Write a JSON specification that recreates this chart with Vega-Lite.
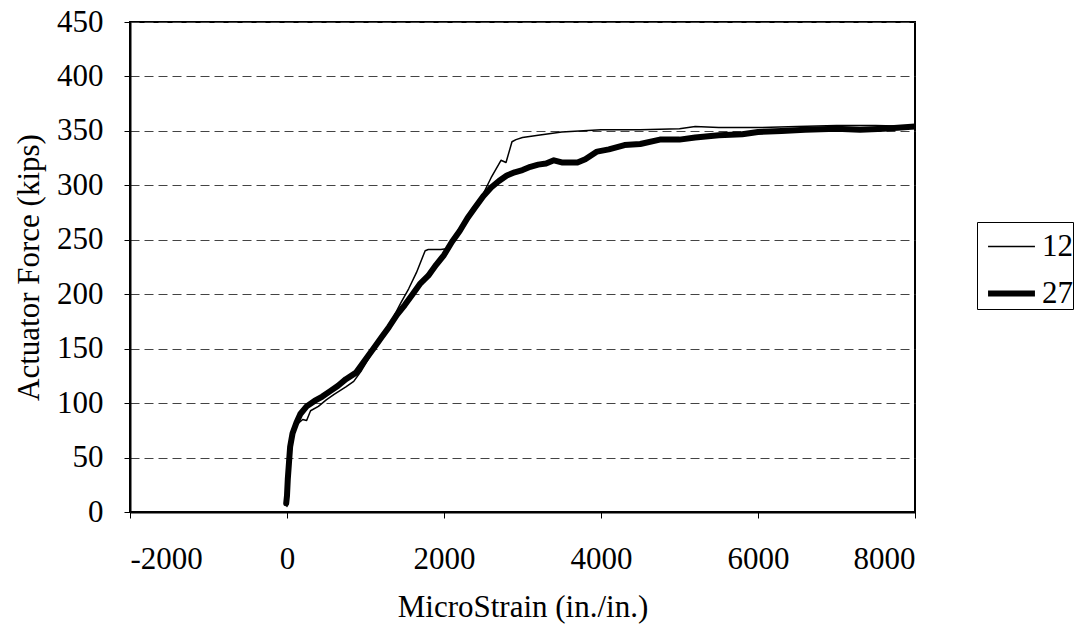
{
  "$schema": "https://vega.github.io/schema/vega-lite/v6.json",
  "width": 785,
  "height": 490,
  "autosize": {"type": "none"},
  "padding": {"left": 130, "top": 22, "right": 168, "bottom": 120},
  "background": "white",
  "config": {
    "font": "Liberation Serif",
    "view": {"stroke": "black", "strokeWidth": 2}
  },
  "data": {
    "values": [
      {"s": "12", "x": 0, "y": 5}, {"s": "12", "x": 10, "y": 20}, {"s": "12", "x": 30, "y": 50}, {"s": "12", "x": 60, "y": 70},
      {"s": "12", "x": 120, "y": 80}, {"s": "12", "x": 200, "y": 85}, {"s": "12", "x": 250, "y": 84}, {"s": "12", "x": 300, "y": 93},
      {"s": "12", "x": 400, "y": 97}, {"s": "12", "x": 500, "y": 103}, {"s": "12", "x": 600, "y": 108}, {"s": "12", "x": 750, "y": 115},
      {"s": "12", "x": 850, "y": 120}, {"s": "12", "x": 950, "y": 130}, {"s": "12", "x": 1050, "y": 142}, {"s": "12", "x": 1150, "y": 155},
      {"s": "12", "x": 1250, "y": 165}, {"s": "12", "x": 1350, "y": 178}, {"s": "12", "x": 1450, "y": 192}, {"s": "12", "x": 1550, "y": 205},
      {"s": "12", "x": 1650, "y": 220}, {"s": "12", "x": 1760, "y": 240}, {"s": "12", "x": 1800, "y": 241}, {"s": "12", "x": 1960, "y": 241},
      {"s": "12", "x": 2050, "y": 242}, {"s": "12", "x": 2150, "y": 254}, {"s": "12", "x": 2250, "y": 266}, {"s": "12", "x": 2350, "y": 278},
      {"s": "12", "x": 2484, "y": 290}, {"s": "12", "x": 2600, "y": 307}, {"s": "12", "x": 2726, "y": 323}, {"s": "12", "x": 2790, "y": 321},
      {"s": "12", "x": 2866, "y": 340}, {"s": "12", "x": 2917, "y": 342}, {"s": "12", "x": 3000, "y": 344}, {"s": "12", "x": 3200, "y": 346},
      {"s": "12", "x": 3500, "y": 349}, {"s": "12", "x": 4000, "y": 351}, {"s": "12", "x": 4500, "y": 351}, {"s": "12", "x": 5000, "y": 352},
      {"s": "12", "x": 5200, "y": 354}, {"s": "12", "x": 5500, "y": 353}, {"s": "12", "x": 6000, "y": 353}, {"s": "12", "x": 6500, "y": 354},
      {"s": "12", "x": 7000, "y": 355}, {"s": "12", "x": 7500, "y": 355}, {"s": "12", "x": 8000, "y": 354},
      {"s": "27", "x": -10, "y": 8}, {"s": "27", "x": 0, "y": 15}, {"s": "27", "x": 10, "y": 30}, {"s": "27", "x": 25, "y": 45},
      {"s": "27", "x": 40, "y": 60}, {"s": "27", "x": 70, "y": 72}, {"s": "27", "x": 120, "y": 82}, {"s": "27", "x": 170, "y": 90},
      {"s": "27", "x": 250, "y": 97}, {"s": "27", "x": 350, "y": 102}, {"s": "27", "x": 450, "y": 106}, {"s": "27", "x": 550, "y": 111},
      {"s": "27", "x": 650, "y": 116}, {"s": "27", "x": 750, "y": 122}, {"s": "27", "x": 880, "y": 128}, {"s": "27", "x": 1000, "y": 140},
      {"s": "27", "x": 1100, "y": 150}, {"s": "27", "x": 1200, "y": 160}, {"s": "27", "x": 1300, "y": 170}, {"s": "27", "x": 1400, "y": 181},
      {"s": "27", "x": 1500, "y": 190}, {"s": "27", "x": 1600, "y": 200}, {"s": "27", "x": 1700, "y": 210}, {"s": "27", "x": 1800, "y": 217},
      {"s": "27", "x": 1900, "y": 227}, {"s": "27", "x": 2000, "y": 236}, {"s": "27", "x": 2100, "y": 248}, {"s": "27", "x": 2200, "y": 258},
      {"s": "27", "x": 2300, "y": 270}, {"s": "27", "x": 2400, "y": 280}, {"s": "27", "x": 2500, "y": 290}, {"s": "27", "x": 2600, "y": 298},
      {"s": "27", "x": 2700, "y": 304}, {"s": "27", "x": 2800, "y": 309}, {"s": "27", "x": 2900, "y": 312}, {"s": "27", "x": 3000, "y": 314},
      {"s": "27", "x": 3100, "y": 317}, {"s": "27", "x": 3200, "y": 319}, {"s": "27", "x": 3300, "y": 320}, {"s": "27", "x": 3400, "y": 323},
      {"s": "27", "x": 3500, "y": 321}, {"s": "27", "x": 3700, "y": 321}, {"s": "27", "x": 3800, "y": 324}, {"s": "27", "x": 3950, "y": 331},
      {"s": "27", "x": 4100, "y": 333}, {"s": "27", "x": 4300, "y": 337}, {"s": "27", "x": 4500, "y": 338}, {"s": "27", "x": 4750, "y": 342},
      {"s": "27", "x": 5000, "y": 342}, {"s": "27", "x": 5200, "y": 344}, {"s": "27", "x": 5500, "y": 346}, {"s": "27", "x": 5800, "y": 347},
      {"s": "27", "x": 6000, "y": 349}, {"s": "27", "x": 6300, "y": 350}, {"s": "27", "x": 6600, "y": 351}, {"s": "27", "x": 7000, "y": 352},
      {"s": "27", "x": 7300, "y": 351}, {"s": "27", "x": 7600, "y": 352}, {"s": "27", "x": 8000, "y": 354}
    ]
  },
  "mark": {"type": "line", "color": "black", "clip": true, "strokeCap": "round", "strokeJoin": "round"},
  "encoding": {
    "x": {
      "field": "x", "type": "quantitative",
      "scale": {"domain": [-2000, 8000], "nice": false, "zero": false},
      "axis": {
        "title": "MicroStrain (in./in.)", "values": [-2000, 0, 2000, 4000, 6000, 8000],
        "labelExpr": "datum.value < 0 ? '-' + abs(datum.value) : '' + datum.value",
        "grid": false,
        "domainColor": "black", "domainWidth": 2, "tickColor": "black", "tickSize": 6,
        "labelFont": "Liberation Serif", "labelFontSize": 31, "labelColor": "black", "labelPadding": 26,
        "titleFont": "Liberation Serif", "titleFontSize": 31, "titleFontWeight": "normal", "titleColor": "black", "titlePadding": 18
      }
    },
    "y": {
      "field": "y", "type": "quantitative",
      "scale": {"domain": [0, 450], "nice": false},
      "axis": {
        "title": "Actuator Force (kips)", "values": [0, 50, 100, 150, 200, 250, 300, 350, 400, 450],
        "grid": true, "gridColor": "#444", "gridDash": [9, 5], "gridWidth": 1,
        "domainColor": "black", "domainWidth": 2, "tickColor": "black", "tickSize": 6,
        "labelFont": "Liberation Serif", "labelFontSize": 31, "labelColor": "black", "labelPadding": 21,
        "titleFont": "Liberation Serif", "titleFontSize": 31, "titleFontWeight": "normal", "titleColor": "black", "titlePadding": 11
      }
    },
    "detail": {"field": "s"},
    "strokeWidth": {
      "field": "s", "type": "nominal",
      "scale": {"domain": ["12", "27"], "range": [1.5, 6]},
      "legend": {
        "title": null, "orient": "none", "legendX": 847, "legendY": 200,
        "strokeColor": "black", "fillColor": "white", "padding": 0,
        "symbolType": "stroke", "symbolSize": 2200, "symbolStrokeColor": "black", "symbolOffset": 8,
        "labelExpr": "datum.label + '\u00a0\u00a0\u00a0\u00a0\u00a0'",
        "labelFont": "Liberation Serif", "labelFontSize": 31, "labelColor": "black", "labelOffset": 4,
        "rowPadding": 5
      }
    }
  }
}
